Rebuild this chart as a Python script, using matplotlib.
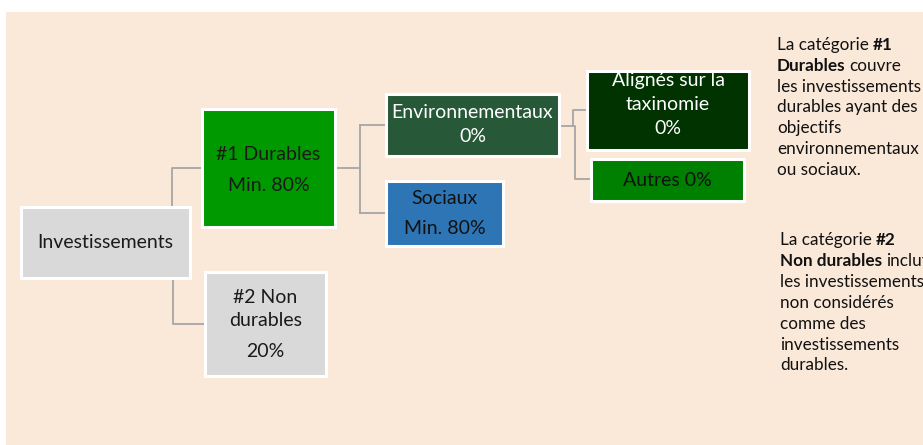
import matplotlib
matplotlib.use("Agg")
import matplotlib.pyplot as plt
from matplotlib.patches import Rectangle

plt.rcParams['font.family'] = ['Lato', 'DejaVu Sans']

# node texts and colours
labels = [["Investissements"], ["#1 Durables", "Min. 80%"], ["#2 Non", "durables", "20%"],
          ["Environnementaux", "0%"], ["Sociaux", "Min. 80%"],
          ["Alignés sur la", "taxinomie", "0%"], ["Autres 0%"]]
fills = ["#d9d9d9", "#009900", "#d9d9d9", "#275838", "#2e75b6", "#003300", "#008000"]
text_colors = ["#1a1a1a", "#1a1a1a", "#1a1a1a", "white", "#111111", "white", "#111111"]

# side notes: list of (text, bold) pieces per line
note1 = [[("La catégorie", False), ("#1", True)],
         [("Durables", True), ("couvre", False)],
         [("les investissements", False)],
         [("durables ayant des", False)],
         [("objectifs", False)],
         [("environnementaux", False)],
         [("ou sociaux.", False)]]
note2 = [[("La catégorie", False), ("#2", True)],
         [("Non durables", True), ("inclut", False)],
         [("les investissements", False)],
         [("non considérés", False)],
         [("comme des", False)],
         [("investissements", False)],
         [("durables.", False)]]

# layout in pixels (x0, y0, x1, y1), line gaps and vertical shift of the text
boxes = [(21, 207, 190, 278), (202, 109, 335, 227), (205, 272, 326, 376),
         (386, 94, 559, 156), (386, 181, 503, 246), (587, 71, 749, 150),
         (591, 159, 744, 201)]
gaps = [[], [31], [23, 31], [24], [30], [24, 24], []]
shifts = [0, 2, -1, 0, 0, -6, 0]

W, H = 923, 445
fig = plt.figure(figsize=(W / 100, H / 100), dpi=100)
ax = fig.add_axes([0, 0, 1, 1])
ax.set_xlim(0, W)
ax.set_ylim(H, 0)
ax.axis("off")

ax.add_patch(Rectangle((6, 12), W, H, facecolor="#fae8d8", edgecolor="none", zorder=0))

# connectors
conn = "#a6a6a6"
paths = [
    [(172, 207), (172, 168), (202, 168)],
    [(173, 278), (173, 324), (205, 324)],
    [(335, 168), (360, 168)],
    [(360, 125), (360, 213)],
    [(360, 125), (386, 125)],
    [(360, 213), (386, 213)],
    [(559, 126), (573, 126), (573, 110), (587, 110)],
    [(573, 126), (575, 126), (575, 179), (591, 179)],
]
for p in paths:
    xs, ys = zip(*p)
    ax.plot(xs, ys, color=conn, lw=1.3, zorder=1)

for (x0, y0, x1, y1), lines, fc, tc, g, dy in zip(boxes, labels, fills, text_colors, gaps, shifts):
    ax.add_patch(Rectangle((x0, y0), x1 - x0, y1 - y0, facecolor=fc,
                           edgecolor="white", lw=2.2, zorder=2))
    offs = [0]
    for step in g:
        offs.append(offs[-1] + step)
    mean = sum(offs) / len(offs)
    cx, cy = (x0 + x1) / 2, (y0 + y1) / 2 + dy
    for line, o in zip(lines, offs):
        ax.text(cx, cy + o - mean, line, ha="center", va="center",
                color=tc, fontsize=14, zorder=3)


def draw_note(lines, x, y, step):
    for i, parts in enumerate(lines):
        prev = None
        prev_bold = False
        for txt, bold in parts:
            w = "bold" if bold else "normal"
            if prev is None:
                prev = ax.text(x, y + i * step, txt, fontsize=12.3, fontweight=w,
                               color="#111111", va="baseline", ha="left")
            else:
                # bold bbox already carries a little trailing room
                gap = 2.5 if prev_bold else 3
                prev = ax.annotate(txt, xy=(1, 0), xycoords=prev, fontsize=12.3,
                                   fontweight=w, color="#111111",
                                   xytext=(gap, 0), textcoords="offset points",
                                   va="bottom", ha="left")
            prev_bold = bold


draw_note(note1, 777, 50, 20.8)
draw_note(note2, 780, 245, 20.9)

fig.savefig("out.png", dpi=100)
